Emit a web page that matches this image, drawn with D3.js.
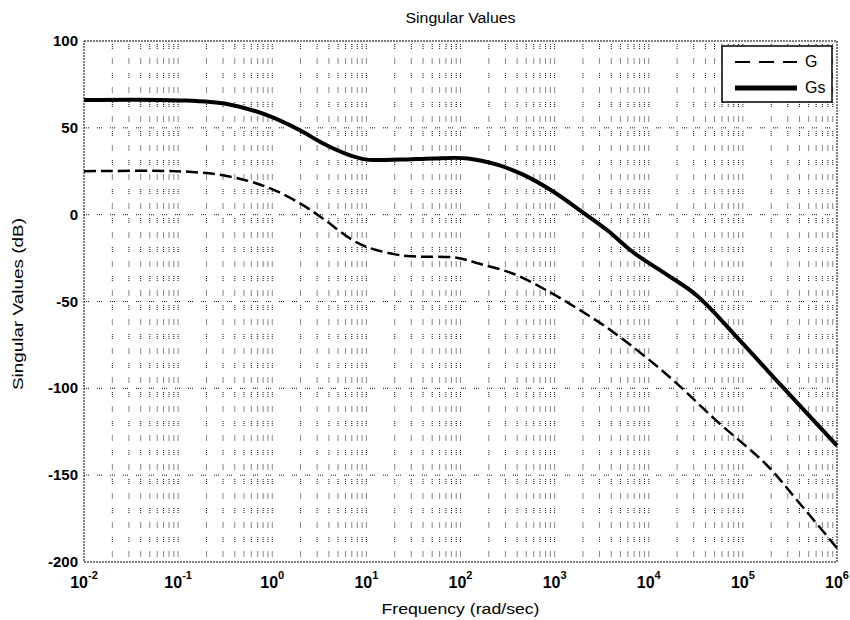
<!DOCTYPE html>
<html>
<head>
<meta charset="utf-8">
<script src="https://cdn.jsdelivr.net/npm/d3@7"></script>
<style>
  html, body { margin: 0; padding: 0; background: #fff; }
  svg { display: block; font-family: "Liberation Sans", Arial, sans-serif; }
</style>
</head>
<body>
<svg id="chart" width="850" height="620"></svg>
<script>
// Singular value traces (frequency in rad/sec, magnitude in dB)
const freqG  = [0.01, 0.12, 0.35, 0.88, 1.97, 3.47, 6.7, 10.2, 21, 31, 91, 160, 363, 830, 1860, 4170, 15500, 52500, 178000, 398000, 1000000];
const valG   = [25, 24.8, 22, 15.9, 6.5, -2.3, -13.7, -18.7, -23, -24, -24.8, -28.3, -34, -43.7, -55, -67.5, -92, -118.7, -144, -166, -192];

const freqGs = [0.01, 0.105, 0.34, 0.88, 1.97, 3.47, 6.7, 10.2, 23, 50, 120, 245, 457, 955, 1860, 3630, 6760, 15000, 32400, 93300, 245000, 1000000];
const valGs  = [66, 65.8, 63.6, 57.3, 48.6, 41, 34.2, 31.7, 31.7, 32.4, 32.4, 28.8, 23.2, 13.5, 2.5, -9, -21.5, -34, -46.5, -72.5, -97.3, -133];

const yTicks = [100, 50, 0, -50, -100, -150, -200];
const xExponents = [-2, -1, 0, 1, 2, 3, 4, 5, 6];
const seriesNames = ["G", "Gs"];

const svg = d3.select("#chart");
const mLeft = 84, mRight = 837, mTop = 41, mBottom = 562;

const x = d3.scaleLog().domain([1e-2, 1e6]).range([mLeft, mRight]);
const y = d3.scaleLinear().domain([-200, 100]).range([mBottom, mTop]);

// Grid: vertical lines at every log decade subdivision
const vGrid = [];
for (let k = -2; k < 6; k++) {
  for (let i = 1; i <= 9; i++) {
    const v = i * Math.pow(10, k);
    if (v > 1e-2 && v < 1e6) vGrid.push(v);
  }
}
svg.append("g")
  .selectAll("line")
  .data(vGrid)
  .join("line")
  .attr("x1", d => x(d)).attr("x2", d => x(d))
  .attr("y1", mTop + 3).attr("y2", mBottom)
  .attr("stroke", "#111")
  .attr("stroke-width", 1)
  .attr("stroke-dasharray", "1,1,1,1,1,9.5");

svg.append("g")
  .selectAll("line")
  .data(yTicks.filter(d => d > -200 && d < 100))
  .join("line")
  .attr("x1", mLeft).attr("x2", mRight)
  .attr("y1", d => y(d)).attr("y2", d => y(d))
  .attr("stroke", "#111")
  .attr("stroke-width", 1)
  .attr("stroke-dasharray", "1,1,1,1,1,8");

// Axes box
svg.append("rect")
  .attr("x", mLeft).attr("y", mTop)
  .attr("width", mRight - mLeft).attr("height", mBottom - mTop)
  .attr("fill", "none")
  .attr("stroke", "#000")
  .attr("stroke-width", 1)
  .attr("stroke-dasharray", "2,1");

// Y tick labels
svg.append("g")
  .selectAll("text")
  .data(yTicks)
  .join("text")
  .attr("x", mLeft - 6)
  .attr("y", d => y(d) + 5)
  .attr("text-anchor", "end")
  .attr("font-size", 15)
  .attr("font-weight", "bold")
  .text(d => d);

// X tick labels: 10 with superscript exponent
const xl = svg.append("g")
  .selectAll("text")
  .data(xExponents)
  .join("text")
  .attr("x", d => x(Math.pow(10, d)))
  .attr("y", 588)
  .attr("text-anchor", "middle")
  .attr("font-size", 16)
  .attr("font-weight", "bold");
xl.append("tspan").text("10");
xl.append("tspan")
  .attr("dy", -9)
  .attr("font-size", 11)
  .text(d => d);

// Title and axis labels
svg.append("text")
  .attr("x", (mLeft + mRight) / 2).attr("y", 23)
  .attr("text-anchor", "middle")
  .attr("font-size", 14)
  .attr("textLength", 110).attr("lengthAdjust", "spacingAndGlyphs")
  .text("Singular Values");

svg.append("text")
  .attr("x", (mLeft + mRight) / 2).attr("y", 614)
  .attr("text-anchor", "middle")
  .attr("font-size", 14)
  .attr("textLength", 158).attr("lengthAdjust", "spacingAndGlyphs")
  .text("Frequency (rad/sec)");

svg.append("text")
  .attr("transform", "translate(23,304) rotate(-90)")
  .attr("text-anchor", "middle")
  .attr("font-size", 14)
  .attr("textLength", 172).attr("lengthAdjust", "spacingAndGlyphs")
  .text("Singular Values (dB)");

// Curves
const line = d3.line()
  .x(d => x(d[0]))
  .y(d => y(d[1]))
  .curve(d3.curveCatmullRom.alpha(0.5));

const plot = svg.append("g");
plot.append("path")
  .datum(d3.zip(freqG, valG))
  .attr("d", line)
  .attr("fill", "none")
  .attr("stroke", "#000")
  .attr("stroke-width", 2.5)
  .attr("stroke-dasharray", "12,5");

plot.append("path")
  .datum(d3.zip(freqGs, valGs))
  .attr("d", line)
  .attr("fill", "none")
  .attr("stroke", "#000")
  .attr("stroke-width", 4);

// Legend
const lg = svg.append("g");
lg.append("rect")
  .attr("x", 722).attr("y", 46)
  .attr("width", 110).attr("height", 56)
  .attr("fill", "#fff")
  .attr("stroke", "#000")
  .attr("stroke-width", 1.5);
lg.append("line")
  .attr("x1", 735).attr("x2", 797)
  .attr("y1", 62).attr("y2", 62)
  .attr("stroke", "#000").attr("stroke-width", 2)
  .attr("stroke-dasharray", "15,9");
lg.append("line")
  .attr("x1", 735).attr("x2", 797)
  .attr("y1", 88).attr("y2", 88)
  .attr("stroke", "#000").attr("stroke-width", 5);
lg.selectAll("text.lbl")
  .data(seriesNames)
  .join("text")
  .attr("class", "lbl")
  .attr("x", 805)
  .attr("y", (d, i) => 67 + i * 26)
  .attr("font-size", 16)
  .text(d => d);
</script>
</body>
</html>
